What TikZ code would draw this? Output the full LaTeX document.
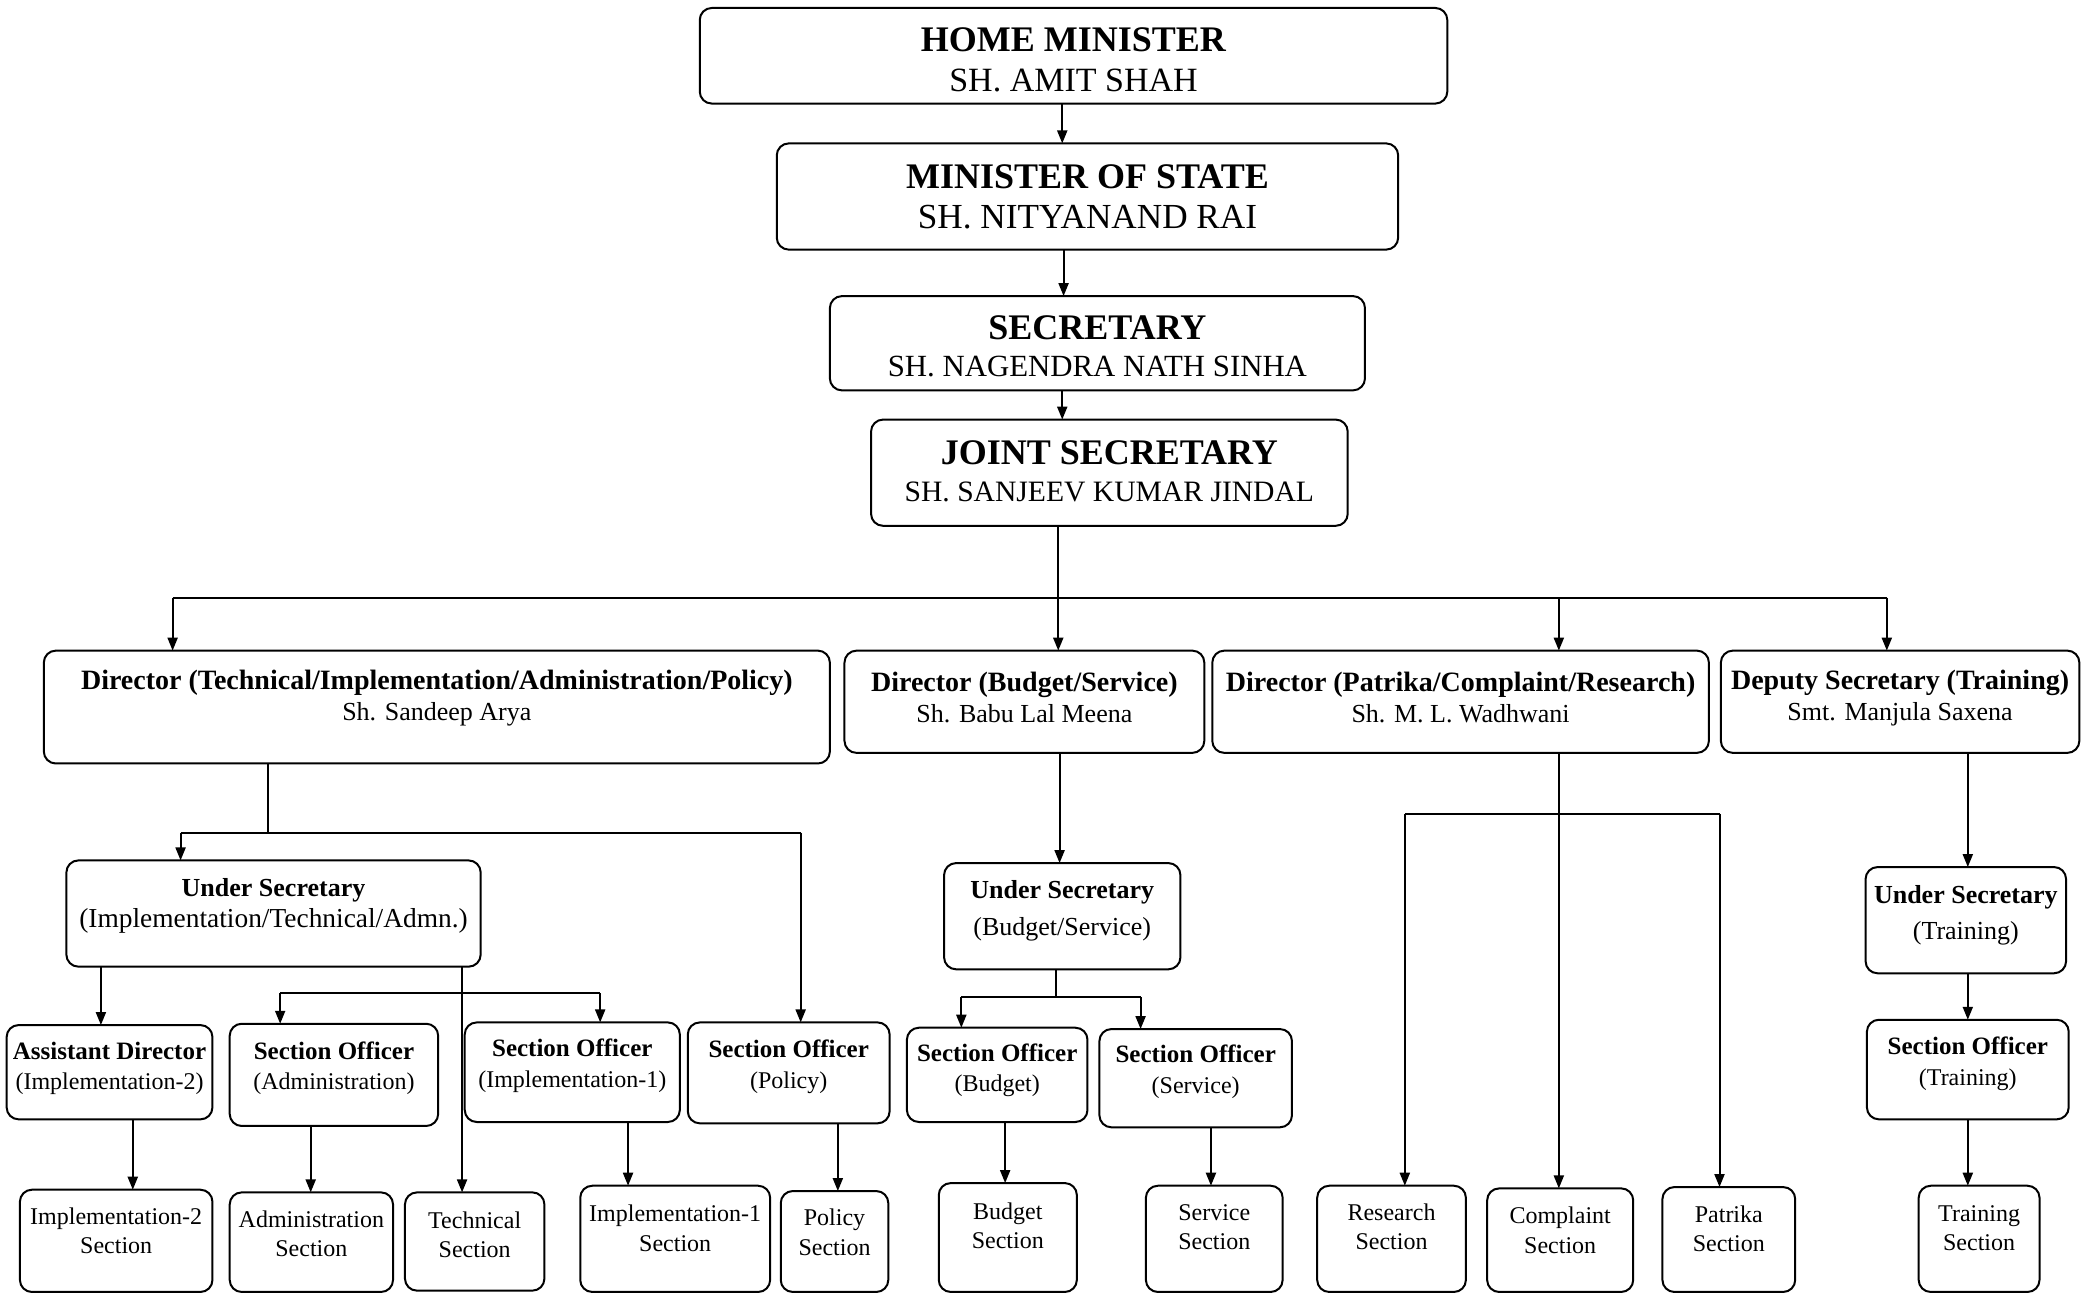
\documentclass[tikz,border=0pt]{standalone}
\usepackage{fontspec}
\setmainfont{Liberation Serif}
\usetikzlibrary{arrows.meta}
\tikzset{
  boxst/.style={draw, line width=1pt, rounded corners=6pt, inner sep=0pt, outer sep=0pt},
  txt/.style={align=center, inner sep=0pt, font=\fontsize{12}{15.3}\selectfont},
  toptxt/.style={font=\fontsize{17}{20}\selectfont},
  dirtxt/.style={font=\fontsize{13}{15.5}\selectfont},
  bottxt/.style={font=\fontsize{12}{14.6}\selectfont},
  ln/.style={line width=1pt},
  arr/.style={line width=1pt, -{Triangle[length=6.5pt,width=5pt]}},
}
\newcommand\obox[8][]{%
  \node[boxst, minimum width={(#5-#3)*0.6639}, minimum height={(#6-#4)*0.6639}] (#2) at ({(#3+#5)/2},{(#4+#6)/2}) {};
  \node[txt,#1] (#2t) at ({(#3+#5)/2},#7) {#8};
}
\newcommand\hd[1]{\textbf{\fontsize{18}{20}\selectfont #1}}
\newcommand\nm[2]{{\fontsize{#1}{20}\selectfont #2}}
\newcommand\dhd[1]{\textbf{\fontsize{14}{15.5}\selectfont #1}}
\newcommand\shd[1]{\textbf{\fontsize{12.5}{15.3}\selectfont #1}}
\begin{document}
\begin{tikzpicture}[x=0.6639pt, y=-0.6639pt]
\fill[white] (0,0) rectangle (1568,975);
\useasboundingbox (0,0) rectangle (1568,975);

% top chain
\obox[toptxt]{hm}{527}{6}{1090}{78}{45}{\hd{HOME MINISTER}\\\nm{17}{SH. AMIT SHAH}}
\obox[toptxt]{mos}{585}{108}{1053}{188}{148}{\hd{MINISTER OF STATE}\\\nm{17.6}{SH. NITYANAND RAI}}
\obox[toptxt,font=\fontsize{17}{18.6}\selectfont]{sec}{625}{223}{1028}{294}{261}{\hd{SECRETARY}\\\nm{15.4}{SH. NAGENDRA NATH SINHA}}
\obox[toptxt,font=\fontsize{17}{18.6}\selectfont]{js}{656}{316}{1015}{396}{355}{\hd{JOINT SECRETARY}\\\nm{14.8}{SH. SANJEEV KUMAR JINDAL}}

% directors
\obox[dirtxt]{d1}{33}{490}{625}{575}{525.5}{\dhd{Director (Technical/Implementation/Administration/Policy)}\\Sh. Sandeep Arya}
\obox[dirtxt]{d2}{636}{490}{907}{567}{525}{\dhd{Director (Budget/Service)}\\Sh. Babu Lal Meena}
\obox[dirtxt]{d3}{913}{490}{1287}{567}{525.5}{\dhd{Director (Patrika/Complaint/Research)}\\Sh. M. L. Wadhwani}
\obox[dirtxt]{d4}{1296}{490}{1566}{567}{525.5}{\dhd{Deputy Secretary (Training)}\\Smt. Manjula Saxena}

% under secretaries
\obox[dirtxt]{us1}{50}{648}{362}{728}{682.5}{\textbf{Under Secretary}\\{\fontsize{13.7}{15.5}\selectfont(Implementation/Technical/Admn.)}}
\obox[dirtxt,font=\fontsize{13}{18.6}\selectfont]{us2}{711}{650}{889}{730}{686}{\textbf{Under Secretary}\\(Budget/Service)}
\obox[dirtxt,font=\fontsize{13}{18}\selectfont]{us3}{1405}{653}{1556}{733}{689.5}{\textbf{Under Secretary}\\(Training)}

% section officers
\obox{ad}{5}{772}{160}{843}{804.5}{\shd{Assistant Director}\\(Implementation-2)}
\obox{soa}{173}{771}{330}{848}{804.5}{\shd{Section Officer}\\(Administration)}
\obox{soi}{350}{770}{512}{845}{802.5}{\shd{Section Officer}\\(Implementation-1)}
\obox{sop}{518}{770}{670}{846}{803.5}{\shd{Section Officer}\\(Policy)}
\obox{sob}{683}{774}{819}{845}{806}{\shd{Section Officer}\\(Budget)}
\obox{sos}{828}{775}{973}{849}{807}{\shd{Section Officer}\\(Service)}
\obox{sot}{1406}{768}{1558}{843}{801}{\shd{Section Officer}\\(Training)}

% sections
\obox[bottxt]{i2s}{15}{896}{160}{973}{927}{Implementation-2\\Section}
\obox[bottxt]{adms}{173}{898}{296}{973}{929}{Administration\\Section}
\obox[bottxt]{techs}{305}{898}{410}{972}{930}{Technical\\Section}
\obox[bottxt]{i1s}{437}{893}{580}{973}{925}{Implementation-1\\Section}
\obox[bottxt]{pols}{588}{897}{669}{973}{928}{Policy\\Section}
\obox[bottxt]{buds}{707}{891}{811}{973}{923}{Budget\\Section}
\obox[bottxt]{sers}{863}{893}{966}{973}{924}{Service\\Section}
\obox[bottxt]{rs}{992}{893}{1104}{973}{924}{Research\\Section}
\obox[bottxt]{cs}{1120}{895}{1230}{973}{926.5}{Complaint\\Section}
\obox[bottxt]{ps}{1252}{894}{1352}{973}{925.5}{Patrika\\Section}
\obox[bottxt]{ts}{1445}{893}{1536}{973}{925}{Training\\Section}

% top chain connectors
\draw[arr] (hm.south -| 800,0) -- (mos.north -| 800,0);
\draw[arr] (mos.south -| 801,0) -- (sec.north -| 801,0);
\draw[arr] (sec.south -| 800,0) -- (js.north -| 800,0);

% joint secretary to directors
\coordinate (busL) at (130,450);
\coordinate (busC) at (797,450);
\coordinate (busD) at (1174,450);
\coordinate (busR) at (1421,450);
\draw[ln] (busL) -- (busR);
\draw[arr] (js.south -| busC) -- (d2.north -| busC);
\draw[arr] (busL) -- (d1.north -| busL);
\draw[arr] (busD) -- (d3.north -| busD);
\draw[arr] (busR) -- (d4.north -| busR);

% director 1 branch
\coordinate (j1) at (202,627);
\coordinate (j1L) at (136,627);
\coordinate (j1R) at (603,627);
\draw[ln] (d1.south -| j1) -- (j1);
\draw[ln] (j1L) -- (j1R);
\draw[arr] (j1L) -- (us1.north -| j1L);
\draw[arr] (j1R) -- (sop.north -| j1R);

% under secretary 1 branch
\draw[arr] (us1.south -| 76,0) -- (ad.north -| 76,0);
\draw[arr] (us1.south -| 348,0) -- (techs.north -| 348,0);
\coordinate (j2L) at (211,748);
\coordinate (j2R) at (452,748);
\draw[ln] (j2L) -- (j2R);
\draw[arr] (j2L) -- (soa.north -| j2L);
\draw[arr] (j2R) -- (soi.north -| j2R);

\draw[arr] (ad.south -| 100,0) -- (i2s.north -| 100,0);
\draw[arr] (soa.south -| 234,0) -- (adms.north -| 234,0);
\draw[arr] (soi.south -| 473,0) -- (i1s.north -| 473,0);
\draw[arr] (sop.south -| 631,0) -- (pols.north -| 631,0);

% director 2 branch
\draw[arr] (d2.south -| 798,0) -- (us2.north -| 798,0);
\coordinate (j3) at (795,751);
\coordinate (j3L) at (724,751);
\coordinate (j3R) at (859,751);
\draw[ln] (us2.south -| j3) -- (j3);
\draw[ln] (j3L) -- (j3R);
\draw[arr] (j3L) -- (sob.north -| j3L);
\draw[arr] (j3R) -- (sos.north -| j3R);
\draw[arr] (sob.south -| 757,0) -- (buds.north -| 757,0);
\draw[arr] (sos.south -| 912,0) -- (sers.north -| 912,0);

% director 3 branch
\coordinate (j4L) at (1058,613);
\coordinate (j4R) at (1295,613);
\draw[ln] (j4L) -- (j4R);
\draw[arr] (d3.south -| 1174,0) -- (cs.north -| 1174,0);
\draw[arr] (j4L) -- (rs.north -| j4L);
\draw[arr] (j4R) -- (ps.north -| j4R);

% director 4 branch
\draw[arr] (d4.south -| 1482,0) -- (us3.north -| 1482,0);
\draw[arr] (us3.south -| 1482,0) -- (sot.north -| 1482,0);
\draw[arr] (sot.south -| 1482,0) -- (ts.north -| 1482,0);
\end{tikzpicture}
\end{document}
